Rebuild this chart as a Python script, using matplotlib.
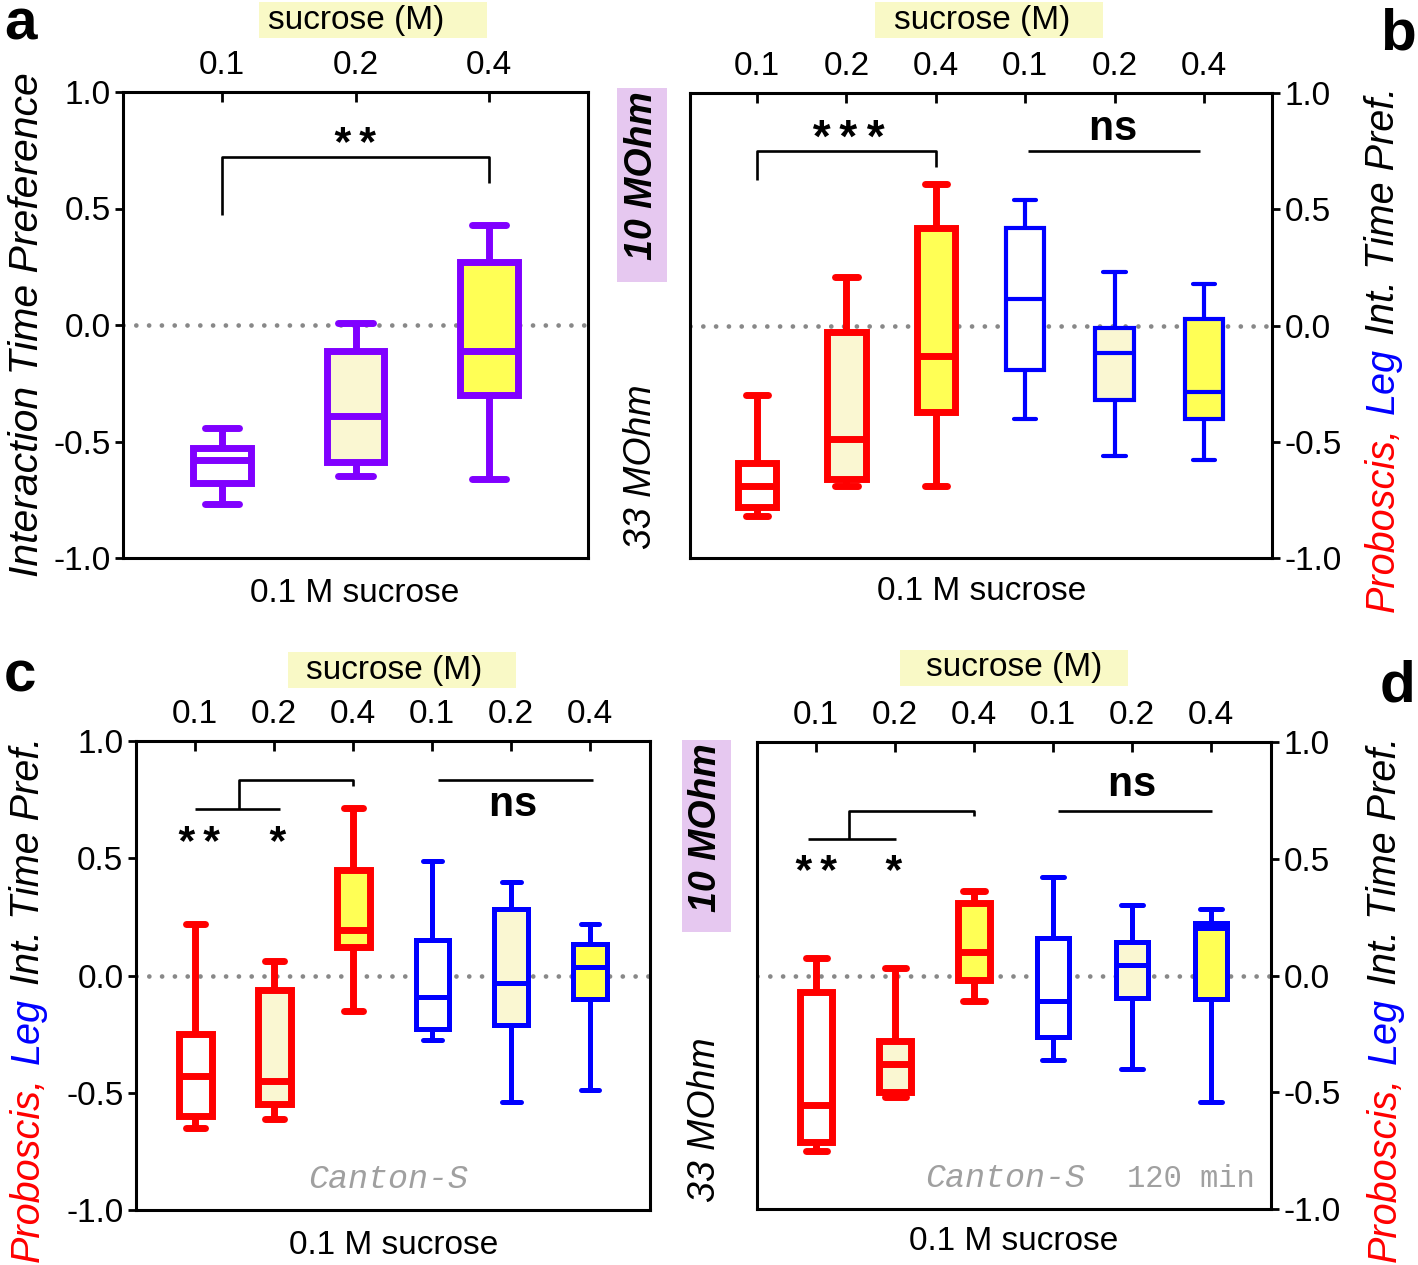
import matplotlib
matplotlib.use("Agg")
import matplotlib.pyplot as plt
from matplotlib.patches import Rectangle

plt.rcParams['font.family'] = ['Liberation Sans', 'DejaVu Sans']

# =========================
# Data
# =========================
conc_3 = ["0.1", "0.2", "0.4"]
conc_6 = ["0.1", "0.2", "0.4", "0.1", "0.2", "0.4"]

# panel a
a_whishi = [-0.44, 0.01, 0.43]
a_q3 = [-0.53, -0.11, 0.27]
a_med = [-0.58, -0.39, -0.11]
a_q1 = [-0.68, -0.59, -0.30]
a_whislo = [-0.77, -0.65, -0.66]

# panel b (proboscis x3, leg x3)
b_whishi = [-0.30, 0.21, 0.61, 0.54, 0.23, 0.18]
b_q3 = [-0.59, -0.03, 0.42, 0.42, -0.01, 0.03]
b_med = [-0.69, -0.49, -0.13, 0.115, -0.12, -0.285]
b_q1 = [-0.78, -0.66, -0.37, -0.19, -0.32, -0.40]
b_whislo = [-0.82, -0.69, -0.69, -0.40, -0.56, -0.58]

# panel c
c_whishi = [0.22, 0.06, 0.715, 0.49, 0.40, 0.22]
c_q3 = [-0.25, -0.06, 0.45, 0.15, 0.285, 0.135]
c_med = [-0.43, -0.45, 0.195, -0.09, -0.03, 0.035]
c_q1 = [-0.60, -0.55, 0.12, -0.23, -0.21, -0.10]
c_whislo = [-0.65, -0.61, -0.15, -0.275, -0.54, -0.49]

# panel d
d_whishi = [0.075, 0.03, 0.36, 0.42, 0.30, 0.285]
d_q3 = [-0.07, -0.28, 0.31, 0.16, 0.145, 0.225]
d_med = [-0.555, -0.38, 0.10, -0.11, 0.045, 0.205]
d_q1 = [-0.715, -0.50, -0.02, -0.265, -0.095, -0.10]
d_whislo = [-0.75, -0.52, -0.11, -0.36, -0.40, -0.54]

# =========================
# Style
# =========================
W, H = 1418, 1265
PURPLE = '#8000FF'
RED = '#FF0000'
BLUE = '#0000FF'
WHITE = '#FFFFFF'
CREAM = '#FAF7D2'
YELLOW = '#FFFF55'
HILITE = '#F9F9C6'
LAVENDER = '#E6C8F0'
fills3 = [WHITE, CREAM, YELLOW]
fills6 = fills3 * 2

fig = plt.figure(figsize=(W / 100, H / 100), dpi=100)


def make_ax(l, t, r, b):
    return fig.add_axes([l / W, 1 - b / H, (r - l) / W, (b - t) / H])


def fx(x):
    return x / W


def fy(y):
    return 1 - y / H


def draw_boxes(ax, whislo, q1, med, q3, whishi, colors, fills, lws, width, capw):
    n = len(med)
    stats = [dict(med=med[i], q1=q1[i], q3=q3[i], whislo=whislo[i],
                  whishi=whishi[i], fliers=[]) for i in range(n)]
    pos = list(range(1, n + 1))
    bp = ax.bxp(stats, positions=pos, widths=width, capwidths=capw,
                patch_artist=True, showfliers=False, manage_ticks=False)
    for i in range(n):
        c, lw = colors[i], lws[i]
        bx = bp['boxes'][i]
        bx.set_facecolor(fills[i])
        bx.set_edgecolor(c)
        bx.set_linewidth(lw)
        bx.set_joinstyle('miter')
        bx.set_zorder(3)
        bp['medians'][i].set(color=c, linewidth=lw, solid_capstyle='butt', zorder=4)
        for w in bp['whiskers'][2 * i:2 * i + 2]:
            w.set(color=c, linewidth=lw, solid_capstyle='butt', zorder=2)
        for cp in bp['caps'][2 * i:2 * i + 2]:
            cp.set(color=c, linewidth=lw, solid_capstyle='round', zorder=2)


def style_ax(ax, labels, right=False):
    n = len(labels)
    ax.set_xlim(0.25, n + 0.76)
    ax.set_ylim(-1.0, 1.0)
    ax.axhline(0, color='#888888', lw=3.4, ls=(0, (0.01, 2.7)),
               dash_capstyle='round', zorder=1)
    for s in ax.spines.values():
        s.set_linewidth(2.2)
    ax.xaxis.tick_top()
    ax.set_xticks(range(1, n + 1), labels)
    ax.tick_params(axis='x', direction='in', length=7, width=2, pad=8,
                   labelsize=24)
    ax.set_yticks([-1.0, -0.5, 0.0, 0.5, 1.0],
                  ['-1.0', '-0.5', '0.0', '0.5', '1.0'])
    if right:
        ax.yaxis.tick_right()
    ax.tick_params(axis='y', direction='out', length=6, width=2, pad=3,
                   labelsize=24)


def hl_box(l, t, r, b, color):
    fig.add_artist(Rectangle((fx(l), fy(b)), (r - l) / W, (b - t) / H,
                             transform=fig.transFigure, fc=color, ec='none',
                             zorder=0))


def vstack(x, y_bottom, parts, size=28.5):
    rnd = fig.canvas.get_renderer()
    y = y_bottom
    for text, color in parts:
        t = fig.text(fx(x), fy(y), text, rotation=90, ha='center',
                     va='bottom', color=color, fontsize=size, style='italic')
        bb = t.get_window_extent(rnd)
        y -= bb.height + 13


def bracket(ax, xs, ys):
    ax.plot(xs, ys, color='black', lw=1.9, solid_capstyle='butt', zorder=5)


def stars(ax, x, y, s, size=31):
    ax.text(x, y - 0.1, s, ha='center', va='baseline', fontsize=size,
            family='Liberation Mono', weight='bold')


def ns(ax, x, y):
    ax.text(x, y - 0.05, 'ns', ha='center', va='baseline', fontsize=30,
            family='Liberation Mono', weight='bold')


# =========================
# Panel a
# =========================
ax_a = make_ax(123, 92, 588, 558)
style_ax(ax_a, conc_3)
ax_a.set_xlim(0.26, 3.74)
draw_boxes(ax_a, a_whislo, a_q1, a_med, a_q3, a_whishi, [PURPLE] * 3, fills3,
           [5.0] * 3, 0.43, 0.26)
bracket(ax_a, [1, 1, 3, 3], [0.47, 0.72, 0.72, 0.61])
stars(ax_a, 2.0, 0.82, '**')

# =========================
# Panel b
# =========================
ax_b = make_ax(690, 93, 1272, 558)
style_ax(ax_b, conc_6, right=True)
draw_boxes(ax_b, b_whislo, b_q1, b_med, b_q3, b_whishi, [RED] * 3 + [BLUE] * 3,
           fills6, [5.0] * 3 + [3.0] * 3, 0.43, 0.25)
bracket(ax_b, [1, 1, 3, 3], [0.625, 0.75, 0.75, 0.68])
stars(ax_b, 2.02, 0.84, '***', size=33)
bracket(ax_b, [4.03, 5.96], [0.75, 0.75])
ns(ax_b, 4.98, 0.85)

# =========================
# Panel c
# =========================
ax_c = make_ax(136, 741, 650, 1210)
style_ax(ax_c, conc_6)
draw_boxes(ax_c, c_whislo, c_q1, c_med, c_q3, c_whishi, [RED] * 3 + [BLUE] * 3,
           fills6, [5.0] * 3 + [3.6] * 3, 0.42, 0.24)
bracket(ax_c, [1.0, 2.08], [0.71, 0.71])
bracket(ax_c, [1.56, 1.56, 3.0, 3.0], [0.71, 0.835, 0.835, 0.81])
stars(ax_c, 1.05, 0.61, '**')
stars(ax_c, 2.04, 0.61, '*')
bracket(ax_c, [4.08, 6.04], [0.835, 0.835])
ns(ax_c, 5.03, 0.73)
ax_c.text(3.44, -0.87, 'Canton-S', ha='center', va='center', fontsize=24,
          family='Liberation Mono', style='italic', color='#A0A0A0')

# =========================
# Panel d
# =========================
ax_d = make_ax(757, 742, 1271, 1209)
style_ax(ax_d, conc_6, right=True)
draw_boxes(ax_d, d_whislo, d_q1, d_med, d_q3, d_whishi, [RED] * 3 + [BLUE] * 3,
           fills6, [5.0] * 3 + [3.6] * 3, 0.41, 0.27)
bracket(ax_d, [0.9, 2.01], [0.585, 0.585])
bracket(ax_d, [1.42, 1.42, 3.0, 3.0], [0.585, 0.706, 0.706, 0.684])
stars(ax_d, 1.0, 0.487, '**')
stars(ax_d, 1.98, 0.487, '*')
bracket(ax_d, [4.06, 6.01], [0.706, 0.706])
ns(ax_d, 5.0, 0.82)
ax_d.text(3.39, -0.87, 'Canton-S', ha='center', va='center', fontsize=24,
          family='Liberation Mono', style='italic', color='#A0A0A0')
ax_d.text(5.75, -0.87, '120 min', ha='center', va='center', fontsize=22,
          family='Liberation Mono', color='#A0A0A0')

# =========================
# Labels around the panels
# =========================
for l, t, r, b, cx, cy in [(259, 2, 487, 38, 356, 20), (875, 2, 1103, 38, 982, 20),
                           (288, 652, 516, 688, 394, 670), (900, 650, 1128, 686, 1014, 668)]:
    hl_box(l, t, r, b, HILITE)
    fig.text(fx(cx), fy(cy), 'sucrose (M)', ha='center', va='center', fontsize=24)

for cx, cy in [(355, 593), (982, 591), (394, 1245), (1014, 1241)]:
    fig.text(fx(cx), fy(cy), '0.1 M sucrose', ha='center', va='center', fontsize=24)

fig.text(fx(27), fy(325), 'Interaction Time Preference', rotation=90,
         ha='center', va='center', fontsize=29.5, style='italic')

parts = [('Proboscis,', RED), ('Leg', BLUE), ('Int. Time Pref.', 'black')]
vstack(1383, 612, parts)
vstack(28, 1262, parts)
vstack(1385, 1262, parts)

# resistance labels
hl_box(617, 88, 667, 282, LAVENDER)
fig.text(fx(642), fy(176), '10 MOhm', rotation=90, ha='center', va='center',
         fontsize=27, weight='bold', style='italic')
fig.text(fx(641), fy(467), '33 MOhm', rotation=90, ha='center', va='center',
         fontsize=27, style='italic')
hl_box(682, 740, 731, 932, LAVENDER)
fig.text(fx(706), fy(828), '10 MOhm', rotation=90, ha='center', va='center',
         fontsize=27, weight='bold', style='italic')
fig.text(fx(705), fy(1120), '33 MOhm', rotation=90, ha='center', va='center',
         fontsize=27, style='italic')

# panel letters
for letter, cx, by in [('a', 20, 40), ('b', 1398, 49), ('c', 20, 692), ('d', 1398, 702)]:
    fig.text(fx(cx), fy(by), letter, ha='center', va='baseline', fontsize=42,
             weight='bold')

fig.savefig('out.png', dpi=100)
plt.close()
